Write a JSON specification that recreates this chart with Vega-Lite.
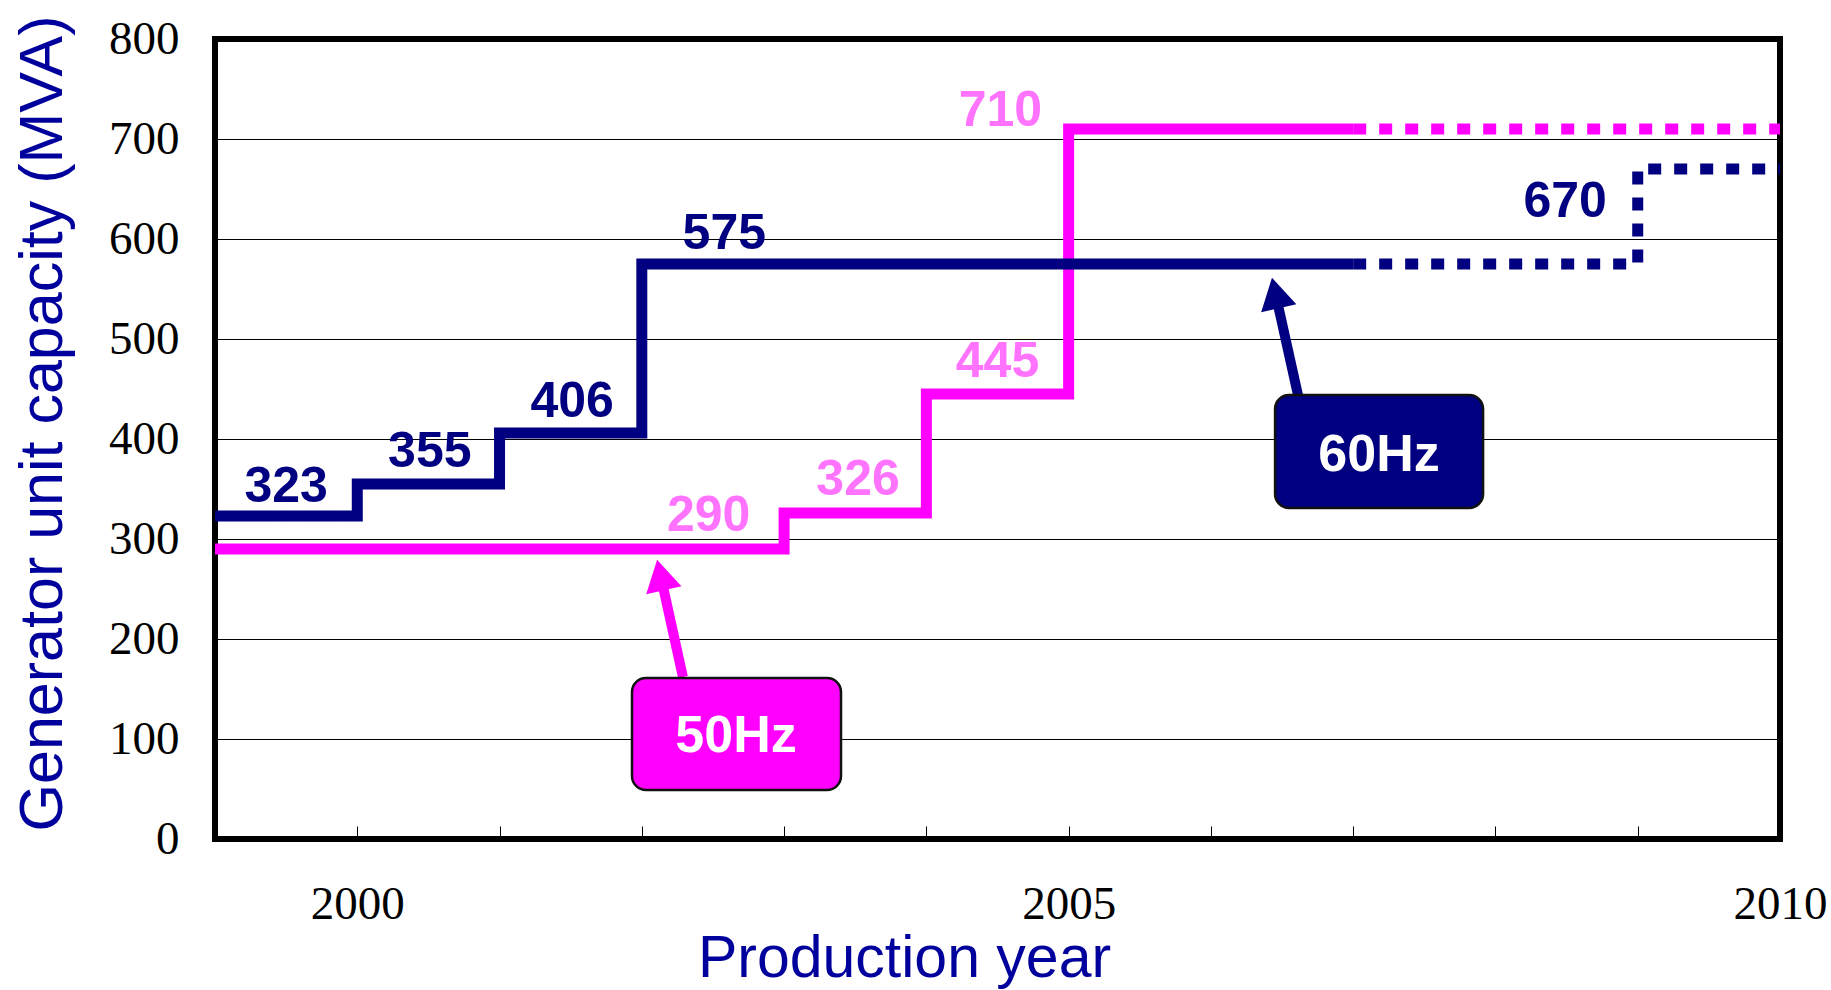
{
  "$schema": "https://vega.github.io/schema/vega-lite/v6.json",
  "autosize": {"type": "none"},
  "padding": {"left": 215, "top": 39, "right": 51, "bottom": 151},
  "width": 1565,
  "height": 800,
  "background": "white",
  "config": {
    "view": {"stroke": "black", "strokeWidth": 6},
    "axis": {"labelFont": "Liberation Serif", "labelFontSize": 47, "labelColor": "black"}
  },
  "datasets": {
    "lines": [
      {"series": "60Hz", "status": "solid", "year": 1999, "mva": 323},
      {"series": "60Hz", "status": "solid", "year": 2000, "mva": 355},
      {"series": "60Hz", "status": "solid", "year": 2001, "mva": 406},
      {"series": "60Hz", "status": "solid", "year": 2002, "mva": 575},
      {"series": "60Hz", "status": "solid", "year": 2007, "mva": 575},
      {"series": "60Hz", "status": "dotted", "year": 2007, "mva": 575},
      {"series": "60Hz", "status": "dotted", "year": 2009, "mva": 670},
      {"series": "60Hz", "status": "dotted", "year": 2010, "mva": 670},
      {"series": "50Hz", "status": "solid", "year": 1999, "mva": 290},
      {"series": "50Hz", "status": "solid", "year": 2003, "mva": 326},
      {"series": "50Hz", "status": "solid", "year": 2004, "mva": 445},
      {"series": "50Hz", "status": "solid", "year": 2005, "mva": 710},
      {"series": "50Hz", "status": "solid", "year": 2007, "mva": 710},
      {"series": "50Hz", "status": "dotted", "year": 2007, "mva": 710},
      {"series": "50Hz", "status": "dotted", "year": 2010, "mva": 710}
    ],
    "labels": [
      {"series": "60Hz", "x": 1999.5, "y": 352, "label": "323"},
      {"series": "60Hz", "x": 2000.51, "y": 387, "label": "355"},
      {"series": "60Hz", "x": 2001.51, "y": 437, "label": "406"},
      {"series": "60Hz", "x": 2002.58, "y": 605, "label": "575"},
      {"series": "60Hz", "x": 2008.49, "y": 637, "label": "670"},
      {"series": "50Hz", "x": 2002.47, "y": 323, "label": "290"},
      {"series": "50Hz", "x": 2003.52, "y": 359, "label": "326"},
      {"series": "50Hz", "x": 2004.5, "y": 477, "label": "445"},
      {"series": "50Hz", "x": 2004.52, "y": 728, "label": "710"}
    ],
    "callouts": [
      {"series": "50Hz", "x1": 2001.931, "x2": 2003.4, "y1": 161, "y2": 49, "tx": 2002.662, "ty": 103, "ax1": 2002.289, "ay1": 162, "ax2": 2002.131, "ay2": 264},
      {"series": "60Hz", "x1": 2006.451, "x2": 2007.913, "y1": 444, "y2": 331, "tx": 2007.182, "ty": 384, "ax1": 2006.612, "ay1": 444, "ax2": 2006.453, "ay2": 546}
    ]
  },
  "layer": [
    {
      "data": {"name": "lines"},
      "transform": [{"filter": "datum.series === '50Hz'"}],
      "mark": {"type": "line", "interpolate": "step-after", "strokeWidth": 11, "strokeCap": "butt", "strokeJoin": "miter", "color": "#FF00FF"},
      "encoding": {
        "x": {
          "field": "year", "type": "quantitative",
          "scale": {"domain": [1999, 2010], "nice": false, "zero": false},
          "axis": {
            "title": "Production year",
            "titleFont": "Liberation Sans", "titleFontSize": 59, "titleFontWeight": "normal", "titleColor": "#00009C",
            "titleX": 689, "titleY": 137, "titleAlign": "center", "titleBaseline": "alphabetic",
            "values": [2000, 2001, 2002, 2003, 2004, 2005, 2006, 2007, 2008, 2009, 2010],
            "labelExpr": "datum.value % 5 === 0 ? '' + datum.value : ''",
            "labelFlush": false, "labelOverlap": false, "labelPadding": 55, "labelBaseline": "top",
            "ticks": true, "tickSize": -13, "tickColor": "black", "tickWidth": 1,
            "domain": false, "grid": false
          }
        },
        "y": {
          "field": "mva", "type": "quantitative",
          "scale": {"domain": [0, 800], "nice": false},
          "axis": {
            "title": "Generator unit capacity (MVA)",
            "titleFont": "Liberation Sans", "titleFontSize": 61, "titleFontWeight": "normal", "titleColor": "#00009C",
            "titleAngle": -90, "titleX": -154, "titleY": 384, "titleAlign": "center", "titleBaseline": "alphabetic",
            "values": [0, 100, 200, 300, 400, 500, 600, 700, 800],
            "labelPadding": 36, "labelBaseline": "middle",
            "ticks": false, "domain": false,
            "grid": true, "gridColor": "black", "gridWidth": 1, "gridOpacity": 1
          }
        },
        "strokeDash": {
          "field": "status", "type": "nominal",
          "scale": {"domain": ["solid", "dotted"], "range": [[1, 0], [13, 13]]},
          "legend": null
        }
      }
    },
    {
      "data": {"name": "lines"},
      "transform": [{"filter": "datum.series === '60Hz'"}],
      "mark": {"type": "line", "interpolate": "step-after", "strokeWidth": 11, "strokeCap": "butt", "strokeJoin": "miter", "color": "#000080"},
      "encoding": {
        "x": {"field": "year", "type": "quantitative", "title": "Production year"},
        "y": {"field": "mva", "type": "quantitative", "title": "Generator unit capacity (MVA)"},
        "strokeDash": {
          "field": "status", "type": "nominal",
          "scale": {"domain": ["solid", "dotted"], "range": [[1, 0], [13, 13]]},
          "legend": null
        }
      }
    },
    {
      "data": {"name": "labels"},
      "mark": {"type": "text", "font": "Liberation Sans", "fontWeight": "bold", "fontSize": 50, "align": "center", "baseline": "middle"},
      "encoding": {
        "x": {"field": "x", "type": "quantitative", "title": "Production year"},
        "y": {"field": "y", "type": "quantitative", "title": "Generator unit capacity (MVA)"},
        "text": {"field": "label"},
        "color": {
          "field": "series", "type": "nominal",
          "scale": {"domain": ["50Hz", "60Hz"], "range": ["#FF73FF", "#000080"]},
          "legend": null
        }
      }
    },
    {
      "data": {"name": "callouts"},
      "mark": {"type": "rule", "strokeWidth": 10, "strokeCap": "butt"},
      "encoding": {
        "x": {"field": "ax1", "type": "quantitative", "title": "Production year"},
        "y": {"field": "ay1", "type": "quantitative", "title": "Generator unit capacity (MVA)"},
        "x2": {"field": "ax2"},
        "y2": {"field": "ay2"},
        "stroke": {
          "field": "series", "type": "nominal",
          "scale": {"domain": ["50Hz", "60Hz"], "range": ["#FF00FF", "#000080"]},
          "legend": null
        }
      }
    },
    {
      "data": {"name": "callouts"},
      "mark": {"type": "point", "shape": "triangle-up", "filled": true, "size": 1300, "angle": -12.5, "opacity": 1, "strokeWidth": 0},
      "encoding": {
        "x": {"field": "ax2", "type": "quantitative", "title": "Production year"},
        "y": {"field": "ay2", "type": "quantitative", "title": "Generator unit capacity (MVA)"},
        "fill": {
          "field": "series", "type": "nominal",
          "scale": {"domain": ["50Hz", "60Hz"], "range": ["#FF00FF", "#000080"]},
          "legend": null
        }
      }
    },
    {
      "data": {"name": "callouts"},
      "mark": {"type": "rect", "cornerRadius": 14, "stroke": "#111111", "strokeWidth": 2.5, "opacity": 1},
      "encoding": {
        "x": {"field": "x1", "type": "quantitative", "title": "Production year"},
        "x2": {"field": "x2"},
        "y": {"field": "y1", "type": "quantitative", "title": "Generator unit capacity (MVA)"},
        "y2": {"field": "y2"},
        "fill": {
          "field": "series", "type": "nominal",
          "scale": {"domain": ["50Hz", "60Hz"], "range": ["#FF00FF", "#000080"]},
          "legend": null
        }
      }
    },
    {
      "data": {"name": "callouts"},
      "mark": {"type": "text", "font": "Liberation Sans", "fontWeight": "bold", "fontSize": 52, "align": "center", "baseline": "middle", "color": "white"},
      "encoding": {
        "x": {"field": "tx", "type": "quantitative", "title": "Production year"},
        "y": {"field": "ty", "type": "quantitative", "title": "Generator unit capacity (MVA)"},
        "text": {"field": "series"}
      }
    }
  ]
}
